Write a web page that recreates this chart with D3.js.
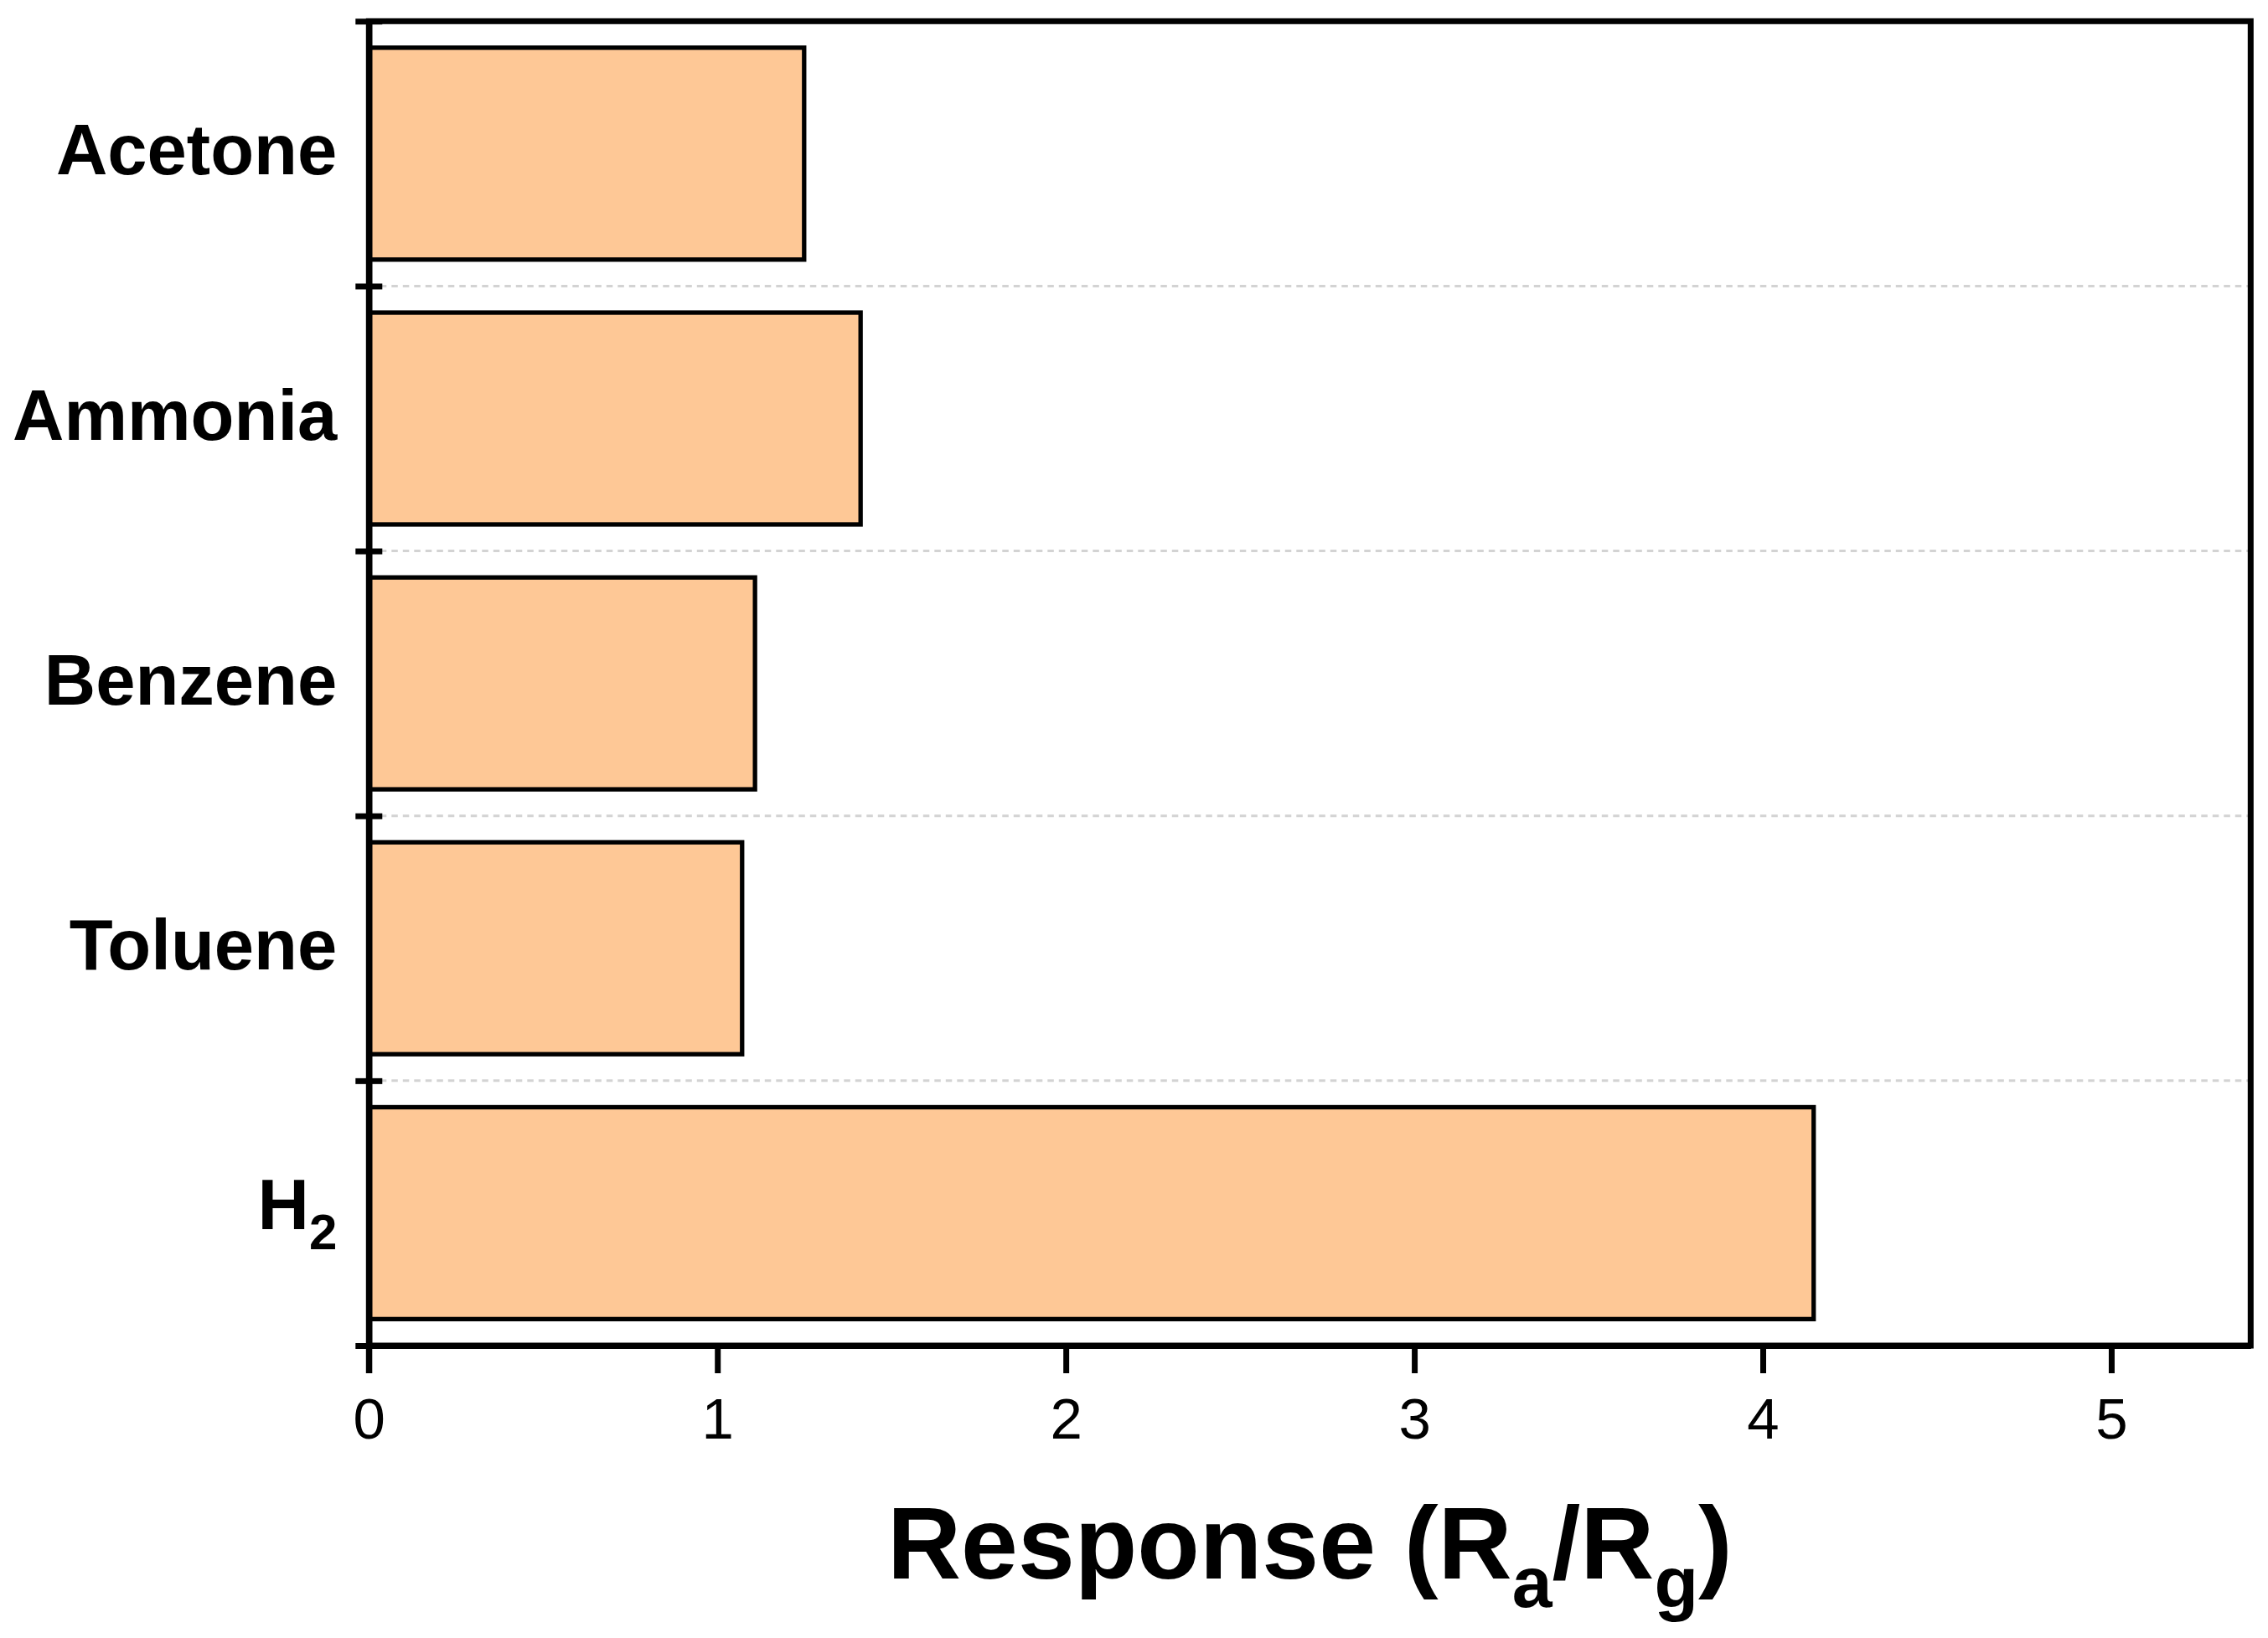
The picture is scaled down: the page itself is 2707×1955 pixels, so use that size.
<!DOCTYPE html>
<html>
<head>
<meta charset="utf-8">
<script src="https://cdn.jsdelivr.net/npm/d3@7"></script>
<style>
  html, body { margin: 0; padding: 0; background: #fff; }
  svg { display: block; }
  text { font-family: "Liberation Sans", Arial, Helvetica, sans-serif; }
</style>
</head>
<body>
<svg id="chart" width="2707" height="1955"></svg>
<script>
// ---- data ----
const categories = ["Acetone", "Ammonia", "Benzene", "Toluene", "H2"];
const responses  = [1.249, 1.411, 1.108, 1.071, 4.146];
const xTicks     = [0, 1, 2, 3, 4, 5];
const xDomain    = [0, 5.4];
const xTitleMain = ["Response (R", "a", "/R", "g", ")"];

// ---- layout ----
const W = 2707, H = 1955;
const margin = { left: 440.3, top: 25.3, right: W - 2686.3, bottom: H - 1606 };
const w = W - margin.left - margin.right;
const h = H - margin.top - margin.bottom;

const svg = d3.select("#chart");
const g = svg.append("g").attr("transform", `translate(${margin.left},${margin.top})`);

const x = d3.scaleLinear().domain(xDomain).range([0, w]);
const y = d3.scaleBand().domain(categories).range([0, h]).paddingInner(0.2).paddingOuter(0.1);
const yb = d3.scaleLinear().domain([0, categories.length]).range([0, h]);

// gridlines at category boundaries (dashed)
const inner = d3.range(1, categories.length);
g.append("g").selectAll("line").data(inner).join("line")
  .attr("x1", 0).attr("x2", w)
  .attr("y1", d => yb(d)).attr("y2", d => yb(d))
  .attr("stroke", "#d3d3d3").attr("stroke-width", 3)
  .attr("stroke-dasharray", "7.5,6");

// bars
g.append("g").selectAll("rect").data(categories).join("rect")
  .attr("x", x(0))
  .attr("y", d => y(d))
  .attr("width", (d, i) => x(responses[i]) - x(0))
  .attr("height", y.bandwidth())
  .attr("fill", "#fec896")
  .attr("stroke", "#000")
  .attr("stroke-width", 5.3);

// frame
g.append("rect").attr("x", 0).attr("y", 0).attr("width", w).attr("height", h)
  .attr("fill", "none").attr("stroke", "#000").attr("stroke-width", 7);

// x axis
const xAxis = g.append("g").attr("transform", `translate(0,${h})`)
  .call(d3.axisBottom(x).tickValues(xTicks).tickSize(33).tickSizeOuter(0).tickPadding(29)
        .tickFormat(d3.format("d")));
xAxis.select(".domain").attr("stroke", "#000").attr("stroke-width", 7);
xAxis.selectAll(".tick line").attr("stroke", "#000").attr("stroke-width", 7);
xAxis.selectAll(".tick text").attr("font-size", 69).attr("fill", "#000");

// y axis ticks at boundaries: outward and inward
const yAxisOut = g.append("g")
  .call(d3.axisLeft(yb).tickValues(d3.range(0, categories.length + 1)).tickSize(16).tickSizeOuter(0).tickFormat(""));
const yAxisIn = g.append("g")
  .call(d3.axisRight(yb).tickValues(d3.range(0, categories.length + 1)).tickSize(16).tickSizeOuter(0).tickFormat(""));
[yAxisOut, yAxisIn].forEach(a => {
  a.select(".domain").attr("stroke", "#000").attr("stroke-width", 7);
  a.selectAll(".tick line").attr("stroke", "#000").attr("stroke-width", 7);
});
// extend left axis line down past the x axis like the reference
g.append("line").attr("x1", x(0)).attr("x2", x(0)).attr("y1", h).attr("y2", h + 33)
  .attr("stroke", "#000").attr("stroke-width", 7);

// category labels
const labels = g.append("g").selectAll("text").data(categories).join("text")
  .attr("x", -38)
  .attr("y", d => y(d) + y.bandwidth() / 2 + (d === "H2" ? 19 : 25))
  .attr("text-anchor", "end")
  .attr("font-size", 85)
  .attr("font-weight", "bold")
  .attr("fill", "#000");
labels.each(function(d) {
  const t = d3.select(this);
  if (d === "H2") {
    t.append("tspan").text("H");
    t.append("tspan").attr("font-size", 60).attr("dy", 24).text("2");
  } else {
    t.text(d);
  }
});

// x axis title
const title = g.append("text")
  .attr("x", w / 2).attr("y", 1884 - margin.top)
  .attr("text-anchor", "middle")
  .attr("font-size", 122).attr("font-weight", "bold").attr("fill", "#000");
title.append("tspan").text(xTitleMain[0]);
title.append("tspan").attr("font-size", 86).attr("dy", 34).text(xTitleMain[1]);
title.append("tspan").attr("dy", -34).text(xTitleMain[2]);
title.append("tspan").attr("font-size", 86).attr("dy", 34).text(xTitleMain[3]);
title.append("tspan").attr("dy", -34).text(xTitleMain[4]);
</script>
</body>
</html>
